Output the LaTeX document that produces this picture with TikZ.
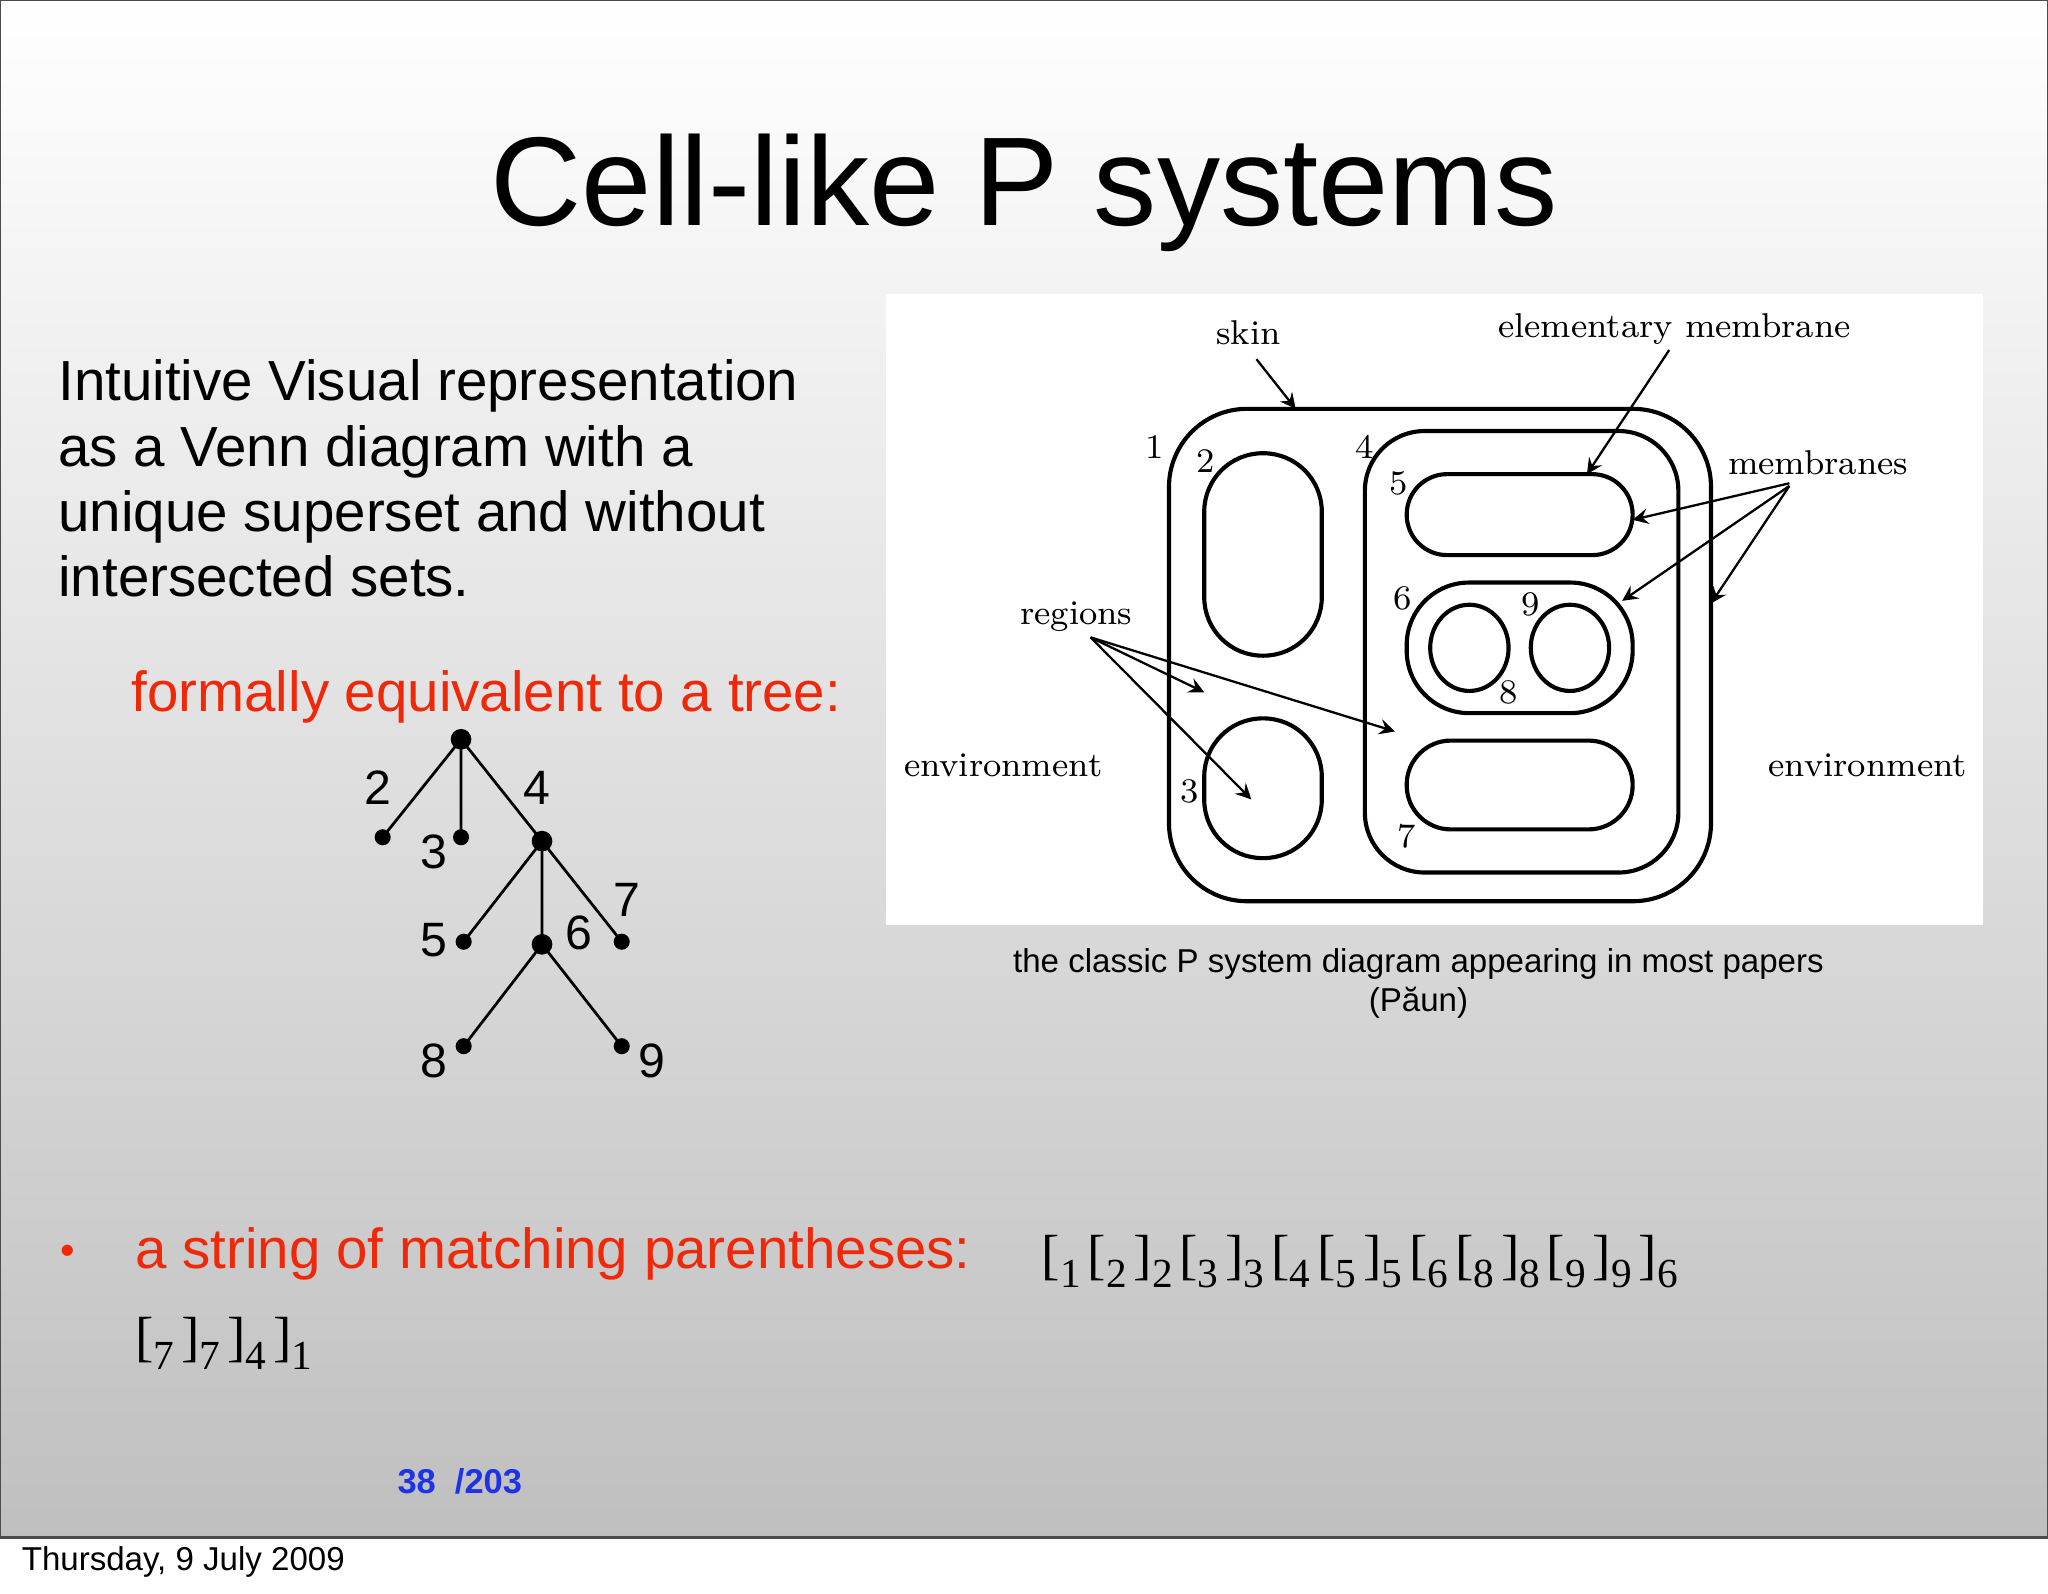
\documentclass[tikz,border=0pt]{standalone}
\usepackage{fontspec}
\newfontfamily\sansf{Liberation Sans}
\newfontfamily\timesf{Liberation Serif}
\newcommand\sbx[1]{\raisebox{-0.55ex}{\fontsize{9}{10}\selectfont #1}\kern1.5pt}
\begin{document}
\begin{tikzpicture}[x=0.01cm,y=-0.01cm,
 mem/.style={draw,line width=0.9pt},
 lab/.style={font=\fontsize{7.5}{9}\selectfont},
 arr/.style={->,>=stealth,line width=0.5pt},
 body/.style={anchor=base west,font=\sansf\fontsize{12.3}{14}\selectfont,inner sep=0},
 tl/.style={font=\sansf\fontsize{10.5}{12}\selectfont},
 dot/.style={circle,fill,inner sep=0,minimum size=4.5pt}]
\useasboundingbox (0,0) rectangle (1568,1220);
\fill[white] (0,0) rectangle (1568,1220);
\shade[top color=white,bottom color=black!25] (0,0) rectangle (1568,1177);
\draw[black!70,line width=0.6pt] (0,0) rectangle (1568,1177);
\node[font=\sansf\fontsize{27.5}{30}\selectfont] (title) at (784,148) {Cell-like P systems};
\node[body] (p1) at (44,307) {Intuitive Visual representation};
\node[body] (p2) at (44,357) {as a Venn diagram with a};
\node[body] (p3) at (44,407) {unique superset and without};
\node[body] (p4) at (44,457) {intersected sets.};
\node[body,text={rgb,255:red,240;green,40;blue,10}] (fe) at (100,545) {formally equivalent to a tree:};
% tree
\node[dot] (r) at (353,566) {};
\node[dot,minimum size=3.5pt] (t2) at (293,641) {};
\node[dot,minimum size=3.5pt] (t3) at (353,641) {};
\node[dot] (t4) at (415,644) {};
\node[dot,minimum size=3.5pt] (t5) at (355,721) {};
\node[dot] (t6) at (415,723) {};
\node[dot,minimum size=3.5pt] (t7) at (476,721) {};
\node[dot,minimum size=3.5pt] (t8) at (355,801) {};
\node[dot,minimum size=3.5pt] (t9) at (476,801) {};
\draw[line width=0.6pt] (r.center)--(t2.center) (r.center)--(t3.center) (r.center)--(t4.center)
 (t4.center)--(t5.center) (t4.center)--(t6.center) (t4.center)--(t7.center)
 (t6.center)--(t8.center) (t6.center)--(t9.center);
\node[tl] at (289,603) {2}; \node[tl] at (411,603) {4}; \node[tl] at (332,652) {3};
\node[tl] at (332,720) {5}; \node[tl] at (443,714) {6}; \node[tl] at (480,689) {7};
\node[tl] at (332,812) {8}; \node[tl] at (499,812) {9};
% diagram
\fill[white] (678,225) rectangle (1518,708);
\draw[mem,rounded corners=17pt] (895,313) rectangle (1310,690);
\draw[mem,rounded corners=12.7pt] (922,347) rectangle (1012,502);
\draw[mem,rounded corners=12.7pt] (922,550) rectangle (1012,657);
\draw[mem,rounded corners=13pt] (1045,330) rectangle (1285,668);
\draw[mem,rounded corners=8.8pt] (1077,363) rectangle (1250,425);
\draw[mem,rounded corners=13.6pt] (1077,446) rectangle (1250,546);
\draw[mem] (1125,496) ellipse (30 and 33);
\draw[mem] (1202,496) ellipse (30 and 33);
\draw[mem,rounded corners=9.6pt] (1077,567) rectangle (1250,635);
\node[lab] at (884,342) {1}; \node[lab] at (923,353) {2}; \node[lab] at (1045,342) {4};
\node[lab] at (1071,370) {5}; \node[lab] at (1074,458) {6}; \node[lab] at (1172,463) {9};
\node[lab] at (1155,530) {8}; \node[lab] at (911,606) {3}; \node[lab] at (1077,640) {7};
\node[lab] (skin) at (956,255) {skin};
\draw[arr] (962,275) -- (992,313);
\node[lab] (elem) at (1282,252) {elementary membrane};
\draw[arr] (1278,268) -- (1215,363);
\node[lab] (mems) at (1392,354) {membranes};
\draw[arr] (1370,370) -- (1250,398);
\draw[arr] (1370,372) -- (1242,460);
\draw[arr] (1370,372) -- (1310,462);
\node[lab] (reg) at (824,472) {regions};
\draw[arr] (835,488) -- (922,530);
\draw[arr] (835,488) -- (1068,560);
\draw[arr] (835,488) -- (958,612);
\node[lab] at (768,586) {environment};
\node[lab] at (1430,586) {environment};
\node[font=\sansf\fontsize{7.2}{9}\selectfont] at (1086,738) {the classic P system diagram appearing in most papers};
\node[font=\sansf\fontsize{7.2}{9}\selectfont] at (1086,768) {(Păun)};
% bullet
\node[text={rgb,255:red,240;green,40;blue,10},font=\sansf\fontsize{9}{10}\selectfont] at (52,961) {•};
\node[body,text={rgb,255:red,240;green,40;blue,10}] (ms) at (103,971) {a string of matching parentheses:};
\node[anchor=base west,inner sep=0,font=\timesf\fontsize{12}{14}\selectfont] at (797,975)
 {[\sbx{1}[\sbx{2}]\sbx{2}[\sbx{3}]\sbx{3}[\sbx{4}[\sbx{5}]\sbx{5}[\sbx{6}[\sbx{8}]\sbx{8}[\sbx{9}]\sbx{9}]\sbx{6}};
\node[anchor=base west,inner sep=0,font=\timesf\fontsize{12}{14}\selectfont] at (103,1038)
 {[\sbx{7}]\sbx{7}]\sbx{4}]\sbx{1}};
\node[text={rgb,255:red,30;green,50;blue,230},font=\sansf\bfseries\fontsize{7.5}{9}\selectfont] at (352,1134) {38\ \ /203};
\node[anchor=west,inner sep=0,font=\sansf\fontsize{7.2}{9}\selectfont] at (16,1196) {Thursday, 9 July 2009};
\end{tikzpicture}
\end{document}
